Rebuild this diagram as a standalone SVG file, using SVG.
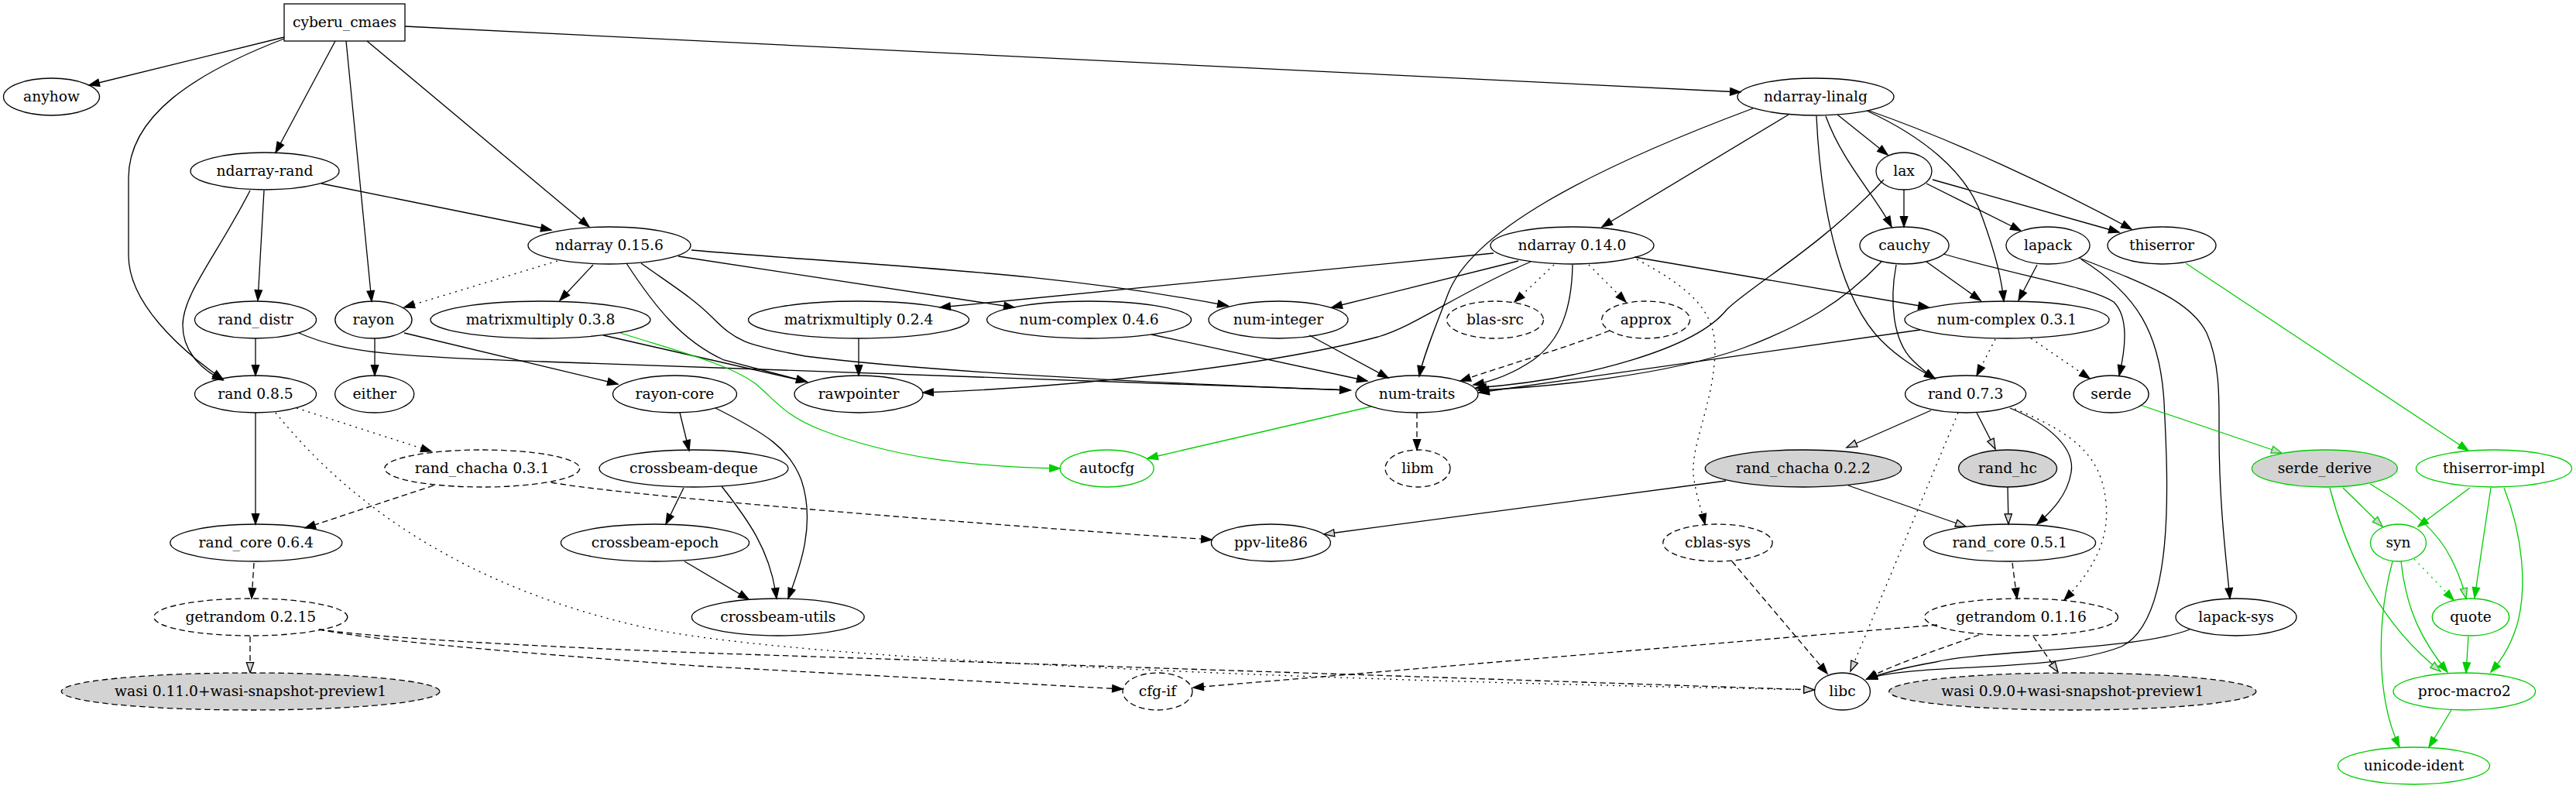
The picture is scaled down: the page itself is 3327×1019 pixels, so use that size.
<svg xmlns="http://www.w3.org/2000/svg" width="3327" height="1019" viewBox="0 0 3327 1019">
<style>
text{font-family:"DejaVu Serif","Liberation Serif",serif;font-size:18.67px;text-anchor:middle;fill:#000}
.n{fill:none;stroke:#000;stroke-width:1.3}
.nd{stroke-dasharray:7.5,4.5}
.ng{fill:#d3d3d3}
.ngr{stroke:#00cd00}
.e{fill:none;stroke:#000;stroke-width:1.3;marker-end:url(#ab)}
.eg{marker-end:url(#ag)}
.g{stroke:#00cd00;marker-end:url(#agr)}
.gg{stroke:#00cd00;marker-end:url(#agg)}
.dt{stroke-dasharray:2,6}
.ds{stroke-dasharray:7.5,4.5}
</style>
<defs>
<marker id="ab" markerUnits="userSpaceOnUse" markerWidth="16" markerHeight="12" refX="13.3" refY="4.67" orient="auto" overflow="visible"><path d="M0,0 L13.3,4.67 L0,9.33 z" fill="#000" stroke="#000" stroke-width="1.3"/></marker>
<marker id="ag" markerUnits="userSpaceOnUse" markerWidth="16" markerHeight="12" refX="13.3" refY="4.67" orient="auto" overflow="visible"><path d="M0,0 L13.3,4.67 L0,9.33 z" fill="#d3d3d3" stroke="#000" stroke-width="1.3"/></marker>
<marker id="agr" markerUnits="userSpaceOnUse" markerWidth="16" markerHeight="12" refX="13.3" refY="4.67" orient="auto" overflow="visible"><path d="M0,0 L13.3,4.67 L0,9.33 z" fill="#00cd00" stroke="#00cd00" stroke-width="1.3"/></marker>
<marker id="agg" markerUnits="userSpaceOnUse" markerWidth="16" markerHeight="12" refX="13.3" refY="4.67" orient="auto" overflow="visible"><path d="M0,0 L13.3,4.67 L0,9.33 z" fill="#d3d3d3" stroke="#00cd00" stroke-width="1.3"/></marker>
</defs>
<rect width="3327" height="1019" fill="#fff"/>
<g id="edges">
<path class="e" d="M367,48 L115,110"/>
<path class="e" d="M367,50 C250,95 166,150 166,230 L166,330 C166,390 230,450 288,490"/>
<path class="e" d="M433,53 L356,197"/>
<path class="e" d="M447,53 L480,389"/>
<path class="e" d="M474,53 L761,293"/>
<path class="e" d="M523,34 L2248,119"/>
<path class="e" d="M415,237 L712,297"/>
<path class="e" d="M341,246 L333,388"/>
<path class="e" d="M323,246 C280,330 236,380 236,420 C236,450 255,475 288,491"/>
<path class="e" d="M330,437 L330,485"/>
<path class="e" d="M386,430 C450,458 520,460 700,467 L1744,504"/>
<path class="e" d="M484,437 L484,485"/>
<path class="e" d="M522,430 L798,496"/>
<path class="e dt" d="M720,337 L522,397"/>
<path class="e" d="M766,342 L723,388"/>
<path class="e" d="M809,340 C845,395 880,440 935,465 L1042,493"/>
<path class="e" d="M828,340 C870,370 895,385 920,410 C950,440 960,445 1040,460 C1200,480 1500,495 1744,504"/>
<path class="e" d="M876,331 L1310,397"/>
<path class="e" d="M893,323 C1150,345 1350,350 1586,395"/>
<path class="e" d="M779,433 L1042,493"/>
<path class="e g" d="M801,430 C880,455 940,470 975,495 C1000,515 1010,535 1060,555 C1150,590 1250,603 1369,605"/>
<path class="e" d="M1109,437 L1109,485"/>
<path class="e" d="M1487,432 L1766,492"/>
<path class="e" d="M1691,433 L1793,488"/>
<path class="e" d="M2264,140 C2050,220 1900,300 1870,380 C1855,420 1838,460 1833,486"/>
<path class="e" d="M2310,148 L2069,293"/>
<path class="e" d="M2373,148 L2438,200"/>
<path class="e" d="M2358,150 C2380,210 2420,250 2443,293"/>
<path class="e" d="M2346,150 C2352,280 2380,390 2430,440 C2455,465 2480,478 2499,489"/>
<path class="e" d="M2411,143 C2480,175 2540,220 2560,280 C2578,330 2585,360 2588,389"/>
<path class="e" d="M2414,143 C2520,180 2650,240 2753,296"/>
<path class="e" d="M2459,245 L2459,293"/>
<path class="e" d="M2488,237 L2610,298"/>
<path class="e" d="M2496,232 L2737,300"/>
<path class="e" d="M2433,232 C2350,320 2260,370 2230,400 C2190,450 2050,490 1906,501"/>
<path class="e" d="M1929,327 L1214,397"/>
<path class="e" d="M1961,337 L1720,397"/>
<path class="e" d="M1977,338 C1880,380 1830,420 1780,435 C1650,470 1400,500 1192,507"/>
<path class="e" d="M2031,342 C2030,400 2015,440 1980,465 C1955,482 1930,492 1903,497"/>
<path class="e dt" d="M2007,342 L1956,390"/>
<path class="e dt" d="M2052,342 L2100,390"/>
<path class="e dt" d="M2114,335 C2180,370 2215,400 2215,450 C2215,520 2180,580 2188,620 C2192,645 2198,660 2202,677"/>
<path class="e" d="M2111,332 L2491,397"/>
<path class="e ds" d="M2079,427 C2020,450 1950,470 1886,492"/>
<path class="e" d="M2488,338 L2558,388"/>
<path class="e" d="M2430,338 C2380,390 2330,420 2250,450 C2150,485 2000,500 1909,504"/>
<path class="e" d="M2449,342 C2440,390 2445,440 2470,465 C2480,475 2490,483 2499,489"/>
<path class="e" d="M2510,328 C2620,360 2700,370 2730,390 C2750,410 2745,450 2737,485"/>
<path class="e" d="M2631,342 L2607,388"/>
<path class="e" d="M2685,333 C2780,370 2830,390 2850,430 C2868,470 2866,520 2866,560 C2866,650 2875,720 2880,773"/>
<path class="e" d="M2688,335 C2760,380 2790,430 2795,520 C2800,620 2810,800 2740,835 C2650,870 2480,855 2411,877"/>
<path class="e" d="M2828,813 C2760,840 2560,840 2500,855 C2460,862 2430,870 2411,877"/>
<path class="e g" d="M2823,340 L3188,582"/>
<path class="e" d="M2480,426 L1910,507"/>
<path class="e dt" d="M2577,438 L2553,485"/>
<path class="e dt" d="M2623,437 L2699,489"/>
<path class="e g" d="M1771,525 L1482,592"/>
<path class="e ds" d="M1830,533 L1830,581"/>
<path class="e" d="M878,533 L890,582"/>
<path class="e" d="M924,527 C990,560 1020,580 1035,620 C1055,680 1030,740 1018,773"/>
<path class="e" d="M883,630 L860,677"/>
<path class="e" d="M932,628 C965,670 995,710 1003,773"/>
<path class="e" d="M884,725 L967,774"/>
<path class="e" d="M330,533 L330,677"/>
<path class="e dt" d="M383,527 L557,583"/>
<path class="e dt eg" d="M356,533 C450,650 600,760 840,812 C1000,845 1500,875 2343,891"/>
<path class="e ds" d="M560,627 L394,682"/>
<path class="e ds" d="M712,623 C800,640 1300,680 1565,697"/>
<path class="e ds" d="M328,727 L325,773"/>
<path class="e ds eg" d="M323,822 L323,869"/>
<path class="e ds" d="M412,813 C500,830 700,845 900,860 L1450,890"/>
<path class="e ds eg" d="M412,813 C500,825 700,835 900,843 L2343,891"/>
<path class="e ds" d="M2599,727 L2605,773"/>
<path class="e ds" d="M2502,807 L1541,888"/>
<path class="e ds" d="M2556,820 C2500,840 2440,860 2411,877"/>
<path class="e ds eg" d="M2626,822 L2658,868"/>
<path class="e ds" d="M2237,725 L2360,870"/>
<path class="e eg" d="M2494,530 L2385,578"/>
<path class="e dt eg" d="M2529,533 L2390,867"/>
<path class="e eg" d="M2553,533 L2577,580"/>
<path class="e" d="M2596,527 C2650,550 2680,580 2675,610 C2670,640 2650,660 2631,677"/>
<path class="e dt" d="M2602,528 C2680,560 2715,590 2720,650 C2725,700 2700,740 2666,775"/>
<path class="e eg" d="M2229,621 L1710,690"/>
<path class="e eg" d="M2387,627 L2539,680"/>
<path class="e eg" d="M2593,629 L2594,677"/>
<path class="e gg" d="M2764,523 L2947,585"/>
<path class="e gg" d="M3026,630 L3077,680"/>
<path class="e gg" d="M3061,625 C3120,660 3150,690 3165,720 C3178,745 3182,760 3185,773"/>
<path class="e gg" d="M3009,630 C3035,730 3080,810 3152,867"/>
<path class="e g" d="M3190,630 L3123,680"/>
<path class="e g" d="M3217,630 L3196,772"/>
<path class="e g" d="M3234,630 C3258,690 3265,760 3250,810 C3240,840 3228,855 3217,868"/>
<path class="e g dt" d="M3118,722 L3169,775"/>
<path class="e g" d="M3101,725 C3108,790 3130,830 3161,868"/>
<path class="e g" d="M3090,725 C3070,800 3068,900 3099,965"/>
<path class="e g" d="M3188,822 L3185,869"/>
<path class="e g" d="M3166,917 L3137,965"/>
</g>
<g id="n_cyberu_cmaes"><rect class="n" x="367" y="5" width="156" height="48"/><text x="445" y="35">cyberu_cmaes</text></g>
<g id="n_anyhow"><ellipse class="n" cx="66.5" cy="125" rx="62" ry="24"/><text x="66.5" y="131">anyhow</text></g>
<g id="n_ndarray_linalg"><ellipse class="n" cx="2345" cy="125" rx="101" ry="24"/><text x="2345" y="131">ndarray-linalg</text></g>
<g id="n_ndarray_rand"><ellipse class="n" cx="342" cy="221" rx="96" ry="24"/><text x="342" y="227">ndarray-rand</text></g>
<g id="n_lax"><ellipse class="n" cx="2459" cy="221" rx="36" ry="24"/><text x="2459" y="227">lax</text></g>
<g id="n_ndarray_0_15_6"><ellipse class="n" cx="787" cy="317" rx="105" ry="24"/><text x="787" y="323">ndarray 0.15.6</text></g>
<g id="n_ndarray_0_14_0"><ellipse class="n" cx="2030.5" cy="317" rx="105.5" ry="24"/><text x="2030.5" y="323">ndarray 0.14.0</text></g>
<g id="n_cauchy"><ellipse class="n" cx="2459.5" cy="317" rx="57.5" ry="24"/><text x="2459.5" y="323">cauchy</text></g>
<g id="n_lapack"><ellipse class="n" cx="2645" cy="317" rx="54" ry="24"/><text x="2645" y="323">lapack</text></g>
<g id="n_thiserror"><ellipse class="n" cx="2792" cy="317" rx="70" ry="24"/><text x="2792" y="323">thiserror</text></g>
<g id="n_rand_distr"><ellipse class="n" cx="330" cy="413" rx="78.5" ry="24"/><text x="330" y="419">rand_distr</text></g>
<g id="n_rayon"><ellipse class="n" cx="482.4" cy="413" rx="49.6" ry="24"/><text x="482.4" y="419">rayon</text></g>
<g id="n_matrixmultiply_0_3_8"><ellipse class="n" cx="698" cy="413" rx="142" ry="24"/><text x="698" y="419">matrixmultiply 0.3.8</text></g>
<g id="n_matrixmultiply_0_2_4"><ellipse class="n" cx="1109" cy="413" rx="142.5" ry="24"/><text x="1109" y="419">matrixmultiply 0.2.4</text></g>
<g id="n_num_complex_0_4_6"><ellipse class="n" cx="1406.6" cy="413" rx="132" ry="24"/><text x="1406.6" y="419">num-complex 0.4.6</text></g>
<g id="n_num_integer"><ellipse class="n" cx="1651" cy="413" rx="90" ry="24"/><text x="1651" y="419">num-integer</text></g>
<g id="n_blas_src"><ellipse class="n nd" cx="1931" cy="413" rx="62.5" ry="24"/><text x="1931" y="419">blas-src</text></g>
<g id="n_approx"><ellipse class="n nd" cx="2125.6" cy="413" rx="57" ry="24"/><text x="2125.6" y="419">approx</text></g>
<g id="n_num_complex_0_3_1"><ellipse class="n" cx="2592" cy="413" rx="132" ry="24"/><text x="2592" y="419">num-complex 0.3.1</text></g>
<g id="n_rand_0_8_5"><ellipse class="n" cx="330" cy="509" rx="78.5" ry="24"/><text x="330" y="515">rand 0.8.5</text></g>
<g id="n_either"><ellipse class="n" cx="483.7" cy="509" rx="51" ry="24"/><text x="483.7" y="515">either</text></g>
<g id="n_rayon_core"><ellipse class="n" cx="871.5" cy="509" rx="80" ry="24"/><text x="871.5" y="515">rayon-core</text></g>
<g id="n_rawpointer"><ellipse class="n" cx="1109" cy="509" rx="83" ry="24"/><text x="1109" y="515">rawpointer</text></g>
<g id="n_num_traits"><ellipse class="n" cx="1830" cy="509" rx="79" ry="24"/><text x="1830" y="515">num-traits</text></g>
<g id="n_rand_0_7_3"><ellipse class="n" cx="2538.6" cy="509" rx="78" ry="24"/><text x="2538.6" y="515">rand 0.7.3</text></g>
<g id="n_serde"><ellipse class="n" cx="2726.6" cy="509" rx="48.5" ry="24"/><text x="2726.6" y="515">serde</text></g>
<g id="n_rand_chacha_0_3_1"><ellipse class="n nd" cx="622.7" cy="605" rx="126" ry="24"/><text x="622.7" y="611">rand_chacha 0.3.1</text></g>
<g id="n_crossbeam_deque"><ellipse class="n" cx="896" cy="605" rx="122" ry="24"/><text x="896" y="611">crossbeam-deque</text></g>
<g id="n_autocfg"><ellipse class="n ngr" cx="1429.6" cy="605" rx="60.5" ry="24"/><text x="1429.6" y="611">autocfg</text></g>
<g id="n_libm"><ellipse class="n nd" cx="1831" cy="605" rx="42" ry="24"/><text x="1831" y="611">libm</text></g>
<g id="n_rand_chacha_0_2_2"><ellipse class="n ng" cx="2329" cy="605" rx="126.7" ry="24"/><text x="2329" y="611">rand_chacha 0.2.2</text></g>
<g id="n_rand_hc"><ellipse class="n ng" cx="2593" cy="605" rx="63.5" ry="24"/><text x="2593" y="611">rand_hc</text></g>
<g id="n_serde_derive"><ellipse class="n ng ngr" cx="3002.4" cy="605" rx="94" ry="24"/><text x="3002.4" y="611">serde_derive</text></g>
<g id="n_thiserror_impl"><ellipse class="n ngr" cx="3221" cy="605" rx="100.5" ry="24"/><text x="3221" y="611">thiserror-impl</text></g>
<g id="n_rand_core_0_6_4"><ellipse class="n" cx="330.8" cy="701" rx="111" ry="24"/><text x="330.8" y="707">rand_core 0.6.4</text></g>
<g id="n_crossbeam_epoch"><ellipse class="n" cx="846" cy="701" rx="121.6" ry="24"/><text x="846" y="707">crossbeam-epoch</text></g>
<g id="n_ppv_lite86"><ellipse class="n" cx="1641.4" cy="701" rx="77" ry="24"/><text x="1641.4" y="707">ppv-lite86</text></g>
<g id="n_cblas_sys"><ellipse class="n nd" cx="2218.5" cy="701" rx="70.7" ry="24"/><text x="2218.5" y="707">cblas-sys</text></g>
<g id="n_rand_core_0_5_1"><ellipse class="n" cx="2595.6" cy="701" rx="111" ry="24"/><text x="2595.6" y="707">rand_core 0.5.1</text></g>
<g id="n_syn"><ellipse class="n ngr" cx="3097.5" cy="701" rx="36" ry="24"/><text x="3097.5" y="707">syn</text></g>
<g id="n_getrandom_0_2_15"><ellipse class="n nd" cx="323.8" cy="797" rx="125" ry="24"/><text x="323.8" y="803">getrandom 0.2.15</text></g>
<g id="n_crossbeam_utils"><ellipse class="n" cx="1004.8" cy="797" rx="111.4" ry="24"/><text x="1004.8" y="803">crossbeam-utils</text></g>
<g id="n_getrandom_0_1_16"><ellipse class="n nd" cx="2610.5" cy="797" rx="125" ry="24"/><text x="2610.5" y="803">getrandom 0.1.16</text></g>
<g id="n_lapack_sys"><ellipse class="n" cx="2888" cy="797" rx="78" ry="24"/><text x="2888" y="803">lapack-sys</text></g>
<g id="n_quote"><ellipse class="n ngr" cx="3191" cy="797" rx="49.7" ry="24"/><text x="3191" y="803">quote</text></g>
<g id="n_wasi_0_11_0"><ellipse class="n nd ng" cx="323.6" cy="893" rx="244.3" ry="24"/><text x="323.6" y="899">wasi 0.11.0+wasi-snapshot-preview1</text></g>
<g id="n_cfg_if"><ellipse class="n nd" cx="1495" cy="893" rx="45" ry="24"/><text x="1495" y="899">cfg-if</text></g>
<g id="n_libc"><ellipse class="n" cx="2379.5" cy="893" rx="36" ry="24"/><text x="2379.5" y="899">libc</text></g>
<g id="n_wasi_0_9_0"><ellipse class="n nd ng" cx="2676.8" cy="893" rx="237" ry="24"/><text x="2676.8" y="899">wasi 0.9.0+wasi-snapshot-preview1</text></g>
<g id="n_proc_macro2"><ellipse class="n ngr" cx="3182.8" cy="893" rx="91.8" ry="24"/><text x="3182.8" y="899">proc-macro2</text></g>
<g id="n_unicode_ident"><ellipse class="n ngr" cx="3117.5" cy="989" rx="98" ry="24"/><text x="3117.5" y="995">unicode-ident</text></g>
</svg>
